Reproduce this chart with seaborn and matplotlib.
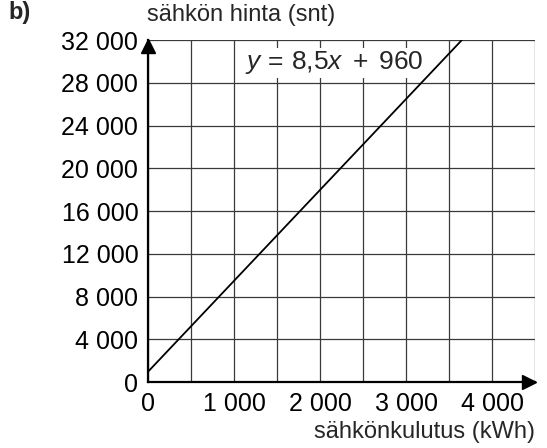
import matplotlib
matplotlib.use("Agg")
import matplotlib.pyplot as plt
import seaborn as sns
from matplotlib.ticker import FixedLocator, MultipleLocator
from matplotlib.transforms import ScaledTranslation

# Données : y = 8,5x + 960
kulutus = [0, 3650]          # kWh
hinta = [960, 32000]         # snt
x_ticks = [0, 1000, 2000, 3000, 4000]
x_labels = ["0", "1 000", "2 000", "3 000", "4 000"]
y_ticks = [0, 4000, 8000, 12000, 16000, 20000, 24000, 28000, 32000]
y_labels = ["0", "4 000", "8 000", "12 000", "16 000",
            "20 000", "24 000", "28 000", "32 000"]

sns.set_style("white")
plt.rcParams["font.family"] = ["Liberation Sans", "DejaVu Sans"]
plt.rcParams["mathtext.fontset"] = "custom"
plt.rcParams["mathtext.rm"] = "Liberation Sans"
plt.rcParams["mathtext.it"] = "Liberation Sans:italic"

fig = plt.figure(figsize=(5.47, 4.48), dpi=100)
ax = fig.add_axes([148 / 547, 1 - 382 / 448, (535 - 148) / 547, (382 - 40) / 448])

sns.lineplot(x=kulutus, y=hinta, ax=ax, color="black", lw=1.3, zorder=3)

ax.set_xlim(0, 4500)
ax.set_ylim(0, 32000)
ax.xaxis.set_major_locator(FixedLocator(x_ticks))
ax.set_xticklabels(x_labels)
ax.xaxis.set_minor_locator(MultipleLocator(500))
ax.yaxis.set_major_locator(FixedLocator(y_ticks))
ax.set_yticklabels(y_labels)
ax.tick_params(axis="both", which="both", length=0, labelsize=18, colors="black")
ax.tick_params(axis="x", pad=7)
ax.tick_params(axis="y", pad=7)

ax.grid(which="both", color="#3a3a3a", lw=0.9)
for side in ["top", "right"]:
    ax.spines[side].set_visible(False)
for side in ["left", "bottom"]:
    ax.spines[side].set_color("black")
    ax.spines[side].set_linewidth(1.6)
    ax.spines[side].set_zorder(4)
ax.set_xlabel("")
ax.set_ylabel("")

# nuolet akseleiden päihin
off_x = ScaledTranslation(-6 / 100, 0, fig.dpi_scale_trans)
off_y = ScaledTranslation(0, -6 / 100, fig.dpi_scale_trans)
ax.plot([1], [0], marker=">", color="black", markersize=10,
        transform=ax.transAxes + off_x, clip_on=False, zorder=5)
ax.plot([0], [1], marker="^", color="black", markersize=10,
        transform=ax.transAxes + off_y, clip_on=False, zorder=5)

ax.text(2163, 29850, r"$y\,{=}\,8{,}5x\enspace{+}\enspace960$", fontsize=19,
        ha="center", va="center",
        bbox=dict(facecolor="white", edgecolor="none", pad=1), zorder=4)

fig.text(8 / 547, 1 - 13 / 448, "b)", fontsize=17, fontweight="bold", va="center")
fig.text(147 / 547, 1 - 15 / 448, "sähkön hinta (snt)", fontsize=17, va="center")
fig.text(535 / 547, 1 - 432 / 448, "sähkönkulutus (kWh)", fontsize=17,
         ha="right", va="center")

fig.savefig("out.png", dpi=100)
